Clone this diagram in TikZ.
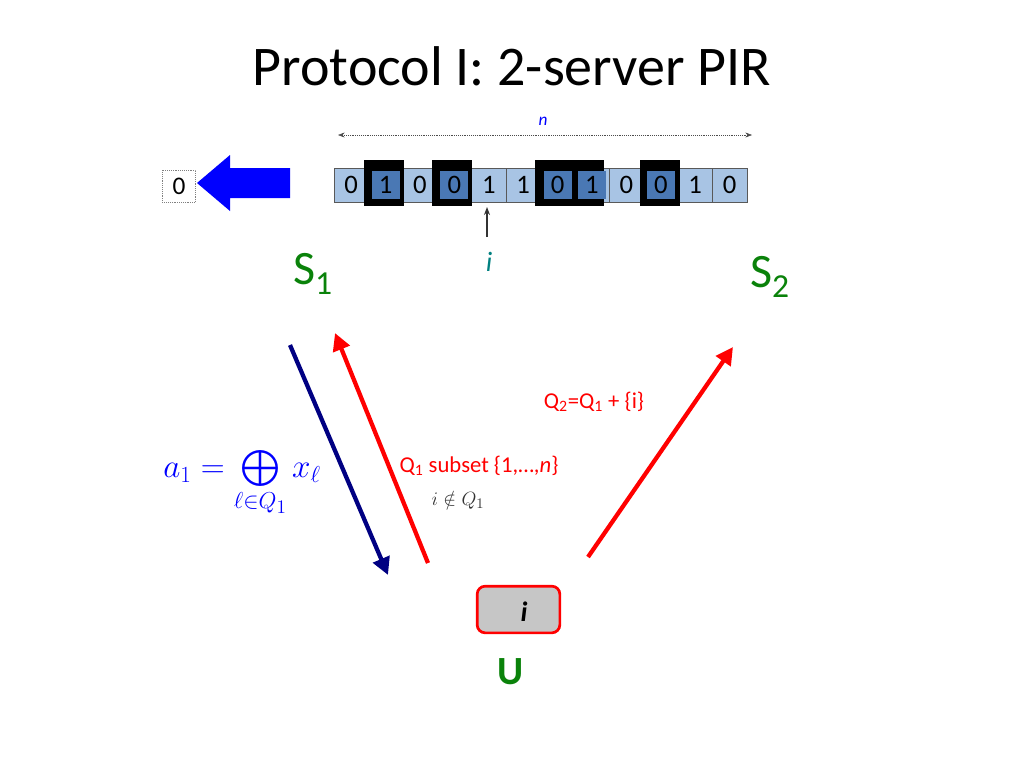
\documentclass[tikz,border=0pt]{standalone}
\usepackage{fontspec}
\setmainfont{Carlito}
\usepackage{amsmath,amssymb}
\usetikzlibrary{arrows.meta}
\definecolor{cellA}{RGB}{168,196,228}
\definecolor{cellB}{RGB}{74,120,180}
\definecolor{sgreen}{RGB}{10,130,10}
\definecolor{navy}{RGB}{0,0,130}
\tikzset{
 cell/.style={draw=gray!70!black,fill=cellA,minimum width=25.8pt,minimum height=25.5pt,inner sep=0pt,font=\fontsize{20}{20}\selectfont},
 dcell/.style={cell,fill=cellB,draw=none,minimum width=21pt,minimum height=21pt},
 blk/.style={fill=black},
 big/.style={font=\fontsize{36}{36}\selectfont,text=sgreen},
 red arrow/.style={draw=red,line width=3.2pt,-{Triangle[length=13pt,width=13pt]}},
}
\begin{document}
\begin{tikzpicture}[x=0.75pt,y=-0.75pt]
\useasboundingbox (0,0) rectangle (1024,768);
\node[font=\fontsize{42}{42}\selectfont] (title) at (512,66) {Protocol I: 2-server PIR};
\foreach \b [count=\k] in {0,1,0,0,1,1,0,1,0,0,1,0}{
  \pgfmathsetmacro{\xx}{334+34.4*(\k-0.5)}
  \node[cell] (c\k) at (\xx,185) {\b};
}
% black frames
\fill[blk] (364,160) rectangle (404,206);
\fill[blk] (432,160) rectangle (472,206);
\fill[blk] (535,160) rectangle (604,206);
\fill[blk] (640,160) rectangle (680,206);
\foreach \k/\b in {2/1,4/0,7/0,8/1,10/0}{
  \pgfmathsetmacro{\xx}{334+34.4*(\k-0.5)}
  \node[dcell] (d\k) at (\xx,185) {\b};
}
\coordinate (nl) at (338,135); \coordinate (nr) at (752,135);
\draw[densely dotted,gray!60!black,{Stealth[length=5pt]}-{Stealth[length=5pt]}] (nl) -- (nr);
\node[text=blue,font=\fontsize{13}{13}\selectfont\itshape] (n) at (543,121) {n};
\coordinate (ib) at (487,237); \coordinate (it) at (487,207);
\draw[gray!40!black,line width=1.5pt,-{Stealth[length=6pt]}] (ib) -- (it);
\node[text=teal,font=\fontsize{21}{21}\selectfont\itshape] (i) at (489,262) {i};
\node[draw=gray,densely dotted,minimum width=25pt,minimum height=24pt,font=\fontsize{19}{19}\selectfont] (out) at (179,186) {0};
\fill[blue] (197,183) -- (230,155) -- (230,168) -- (290,168) -- (290,198) -- (230,198) -- (230,211) -- cycle;
\node[big] (S1) at (313,274) {S\textsubscript{1}};
\node[big] (S2) at (770,277) {S\textsubscript{2}};
\node[draw=red,line width=2pt,fill=gray!45,rounded corners=6pt,minimum width=62pt,minimum height=35pt] (U) at (518.5,609.5) {};
\node[font=\fontsize{21}{21}\selectfont\bfseries\itshape] (ui) at (524,612) {i};
\node[font=\fontsize{30}{30}\selectfont\bfseries,text=sgreen] (Ul) at (511,672) {U};
\coordinate (b1) at (290,345); \coordinate (b2) at (388,575);
\draw[navy,line width=3.2pt,-{Triangle[length=13pt,width=13pt]}] (b1) -- (b2);
\coordinate (r1) at (428,563); \coordinate (r2) at (335,333);
\draw[red arrow] (r1) -- (r2);
\coordinate (r3) at (588,557); \coordinate (r4) at (733,347);
\draw[red arrow] (r3) -- (r4);
\node[text=red,font=\fontsize{17}{17}\selectfont] (q2) at (594,402) {Q\textsubscript{2}=Q\textsubscript{1} + \{i\}};
\node[text=red,font=\fontsize{17}{17}\selectfont] (q1) at (479,466) {Q\textsubscript{1} subset \{1,…,\textit{n}\}};
\node[text=gray!40!black,font=\fontsize{15}{15}\selectfont,inner sep=1pt] (nin) at (458,500) {$i\notin Q_1$};
\node[text=blue,font=\fontsize{27}{27}\selectfont] (a1) at (242,484) {$a_1=\bigoplus\limits_{\ell\in Q_1} x_\ell$};
\end{tikzpicture}
\end{document}
